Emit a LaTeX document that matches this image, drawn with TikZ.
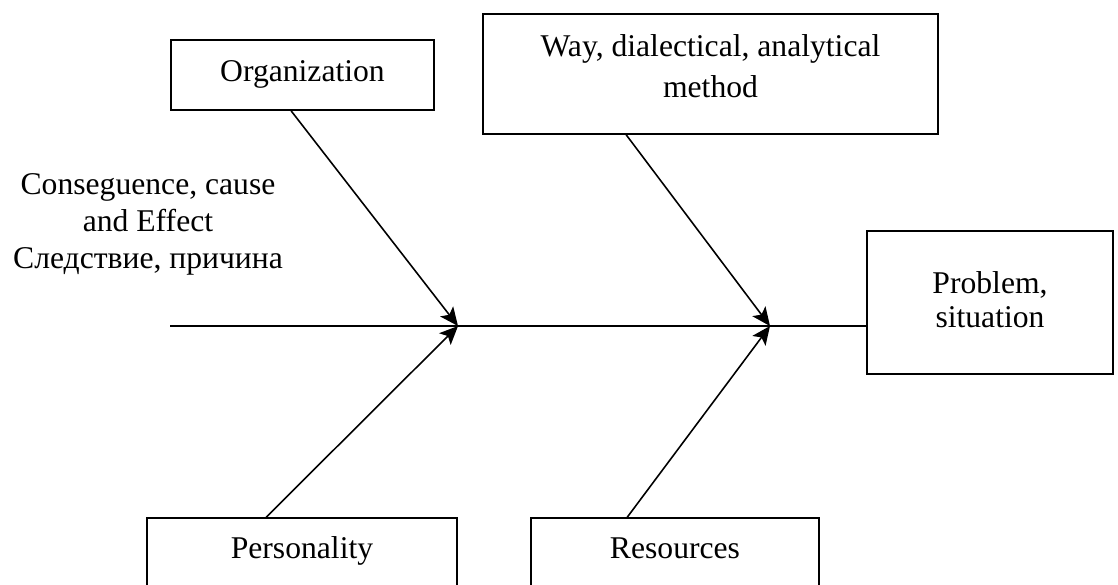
\documentclass[tikz,border=0pt]{standalone}
\usepackage{fontspec}
\setmainfont{Liberation Serif}
\usetikzlibrary{arrows.meta}

\begin{document}
\begin{tikzpicture}[x=0.3793pt, y=-0.3793pt,
  box/.style={draw, line width=0.6pt, align=center, inner sep=0pt,
    font=\fontsize{12}{14}\selectfont},
  oneline/.style={text height=0.68em, text depth=0.22em},
  bone/.style={line width=0.6pt},
  arrowbone/.style={bone, -{Stealth[length=7pt, width=6.2pt, inset=1.6pt]}}]
  % Page frame (bottom boxes run off the page)
  \useasboundingbox (0,0) rectangle (1118,584);
  \clip (0,0) rectangle (1118,584);

  % Cause boxes on top
  \node[box, oneline, minimum width=99.8pt, minimum height=26.6pt] (org) at (302.5,75) {Organization};
  \node[box, minimum width=172.6pt, minimum height=45.5pt, text depth=6pt,
    font=\fontsize{12}{15.5}\selectfont] (way) at (710.5,74)
    {Way, dialectical, analytical\\method};

  % Problem box (head)
  \node[box, minimum width=93.3pt, minimum height=54.2pt, text depth=2pt,
    font=\fontsize{12}{13}\selectfont] (prob) at (990,302.5) {Problem,\\situation};

  % Cause boxes at the bottom
  \node[box, oneline, minimum width=117.6pt, minimum height=25.8pt] (pers) at (302,552) {Personality};
  \node[box, oneline, minimum width=109.2pt, minimum height=25.8pt] (res) at (675,552) {Resources};

  % Left caption
  \node[align=center, font=\fontsize{12}{14}\selectfont] (effect) at (148,224)
    {Conseguence, cause\\and Effect\\Следствие, причина};

  % Spine
  \coordinate (tail) at (170,326);
  \coordinate (j1) at (458,326);
  \coordinate (j2) at (770,326);
  \draw[bone] (tail) -- (tail -| prob.west);

  % Bones
  \draw[arrowbone] (org.south west) ++(121,0) -- (j1);
  \draw[arrowbone] (pers.north west) ++(120,0) -- (j1);
  \draw[arrowbone] (way.south west) ++(144,0) -- (j2);
  \draw[arrowbone] (res.north west) ++(97,0) -- (j2);
\end{tikzpicture}
\end{document}
